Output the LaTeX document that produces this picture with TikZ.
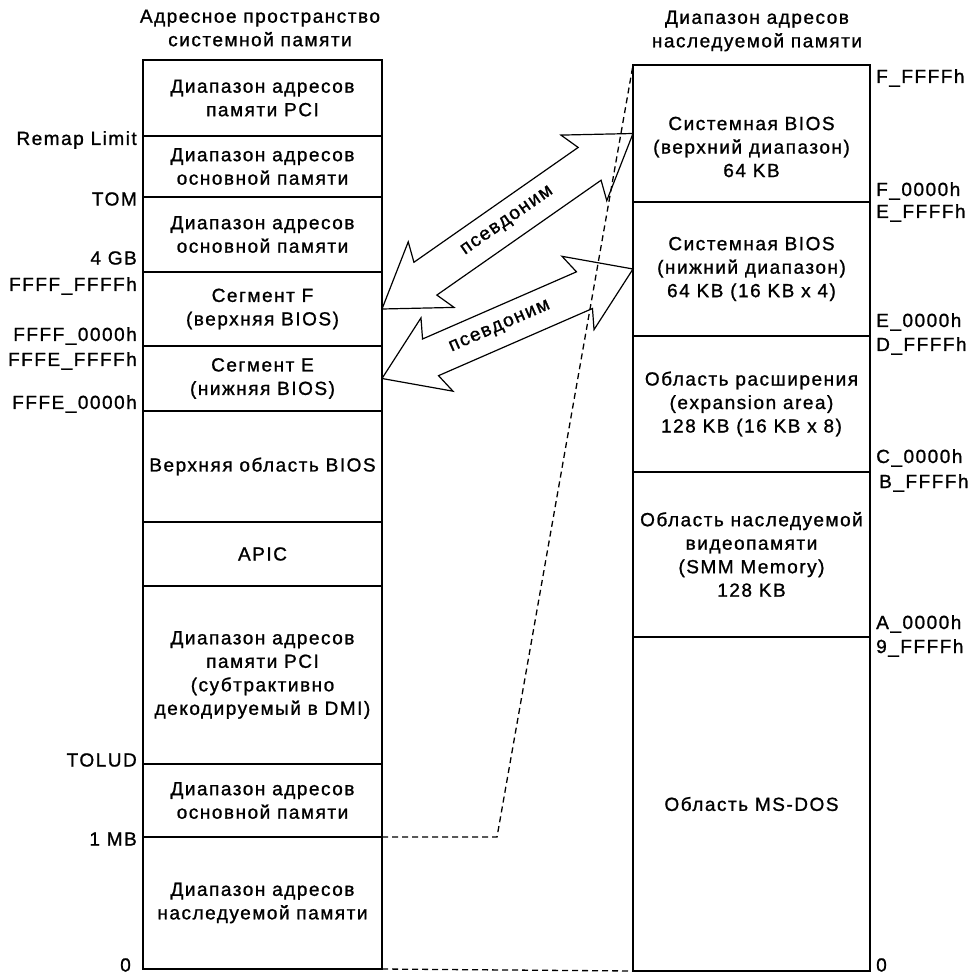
\documentclass[tikz,border=0pt]{standalone}
\usepackage{fontspec}
\setmainfont{Liberation Sans}[LetterSpace=8,FakeBold=1.1]
\usetikzlibrary{positioning,calc}

\newcommand\segfont{\fontsize{19}{23.5}\selectfont}
% двойная стрелка-псевдоним между двумя точками
\newcommand\aliasarrow[2]{%
  \draw[aliasline] (#1) -- ($(#1)!72.1pt!33.7:(#2)$) -- ($(#1)!56.6pt!20.7:(#2)$)
    -- ($(#2)!56.6pt!-20.7:(#1)$) -- ($(#2)!72.1pt!-33.7:(#1)$) -- (#2)
    -- ($(#2)!72.1pt!33.7:(#1)$) -- ($(#2)!56.6pt!20.7:(#1)$)
    -- ($(#1)!56.6pt!-20.7:(#2)$) -- ($(#1)!72.1pt!-33.7:(#2)$) -- cycle;}
\tikzset{
  seg/.style={draw,line width=1.3pt,inner sep=0pt,outer sep=0pt,align=center,font=\segfont},
  lseg/.style={seg,minimum width=239pt},
  rseg/.style={seg,minimum width=237pt},
  addr/.style={inner sep=0pt,font=\segfont},
  title/.style={align=center,inner sep=0pt,font=\segfont},
  aliasline/.style={line width=1.2pt,line join=miter},
  map/.style={line width=1.3pt,dash pattern=on 6pt off 4pt}
}

\begin{document}
\begin{tikzpicture}[x=1pt,y=-1pt]
\useasboundingbox (0,0) rectangle (969,976);
% заголовки
\node[title] (ltitle) at (260,28) {Адресное пространство\\системной памяти};
\node[title] (rtitle) at (757,31) {Диапазон адресов\\наследуемой памяти};

% адресное пространство системной памяти
\node[lseg,anchor=north west,minimum height=76pt] (pcihi) at (143,60) {Диапазон адресов\\памяти PCI};
\node[lseg,minimum height=61pt,below=0pt of pcihi] (remap) {Диапазон адресов\\основной памяти};
\node[lseg,minimum height=75pt,below=0pt of remap] (mainhi) {Диапазон адресов\\основной памяти};
\node[lseg,minimum height=74pt,below=0pt of mainhi] (segF) {Сегмент F\\(верхняя BIOS)};
\node[lseg,minimum height=65pt,below=0pt of segF] (segE) {Сегмент E\\(нижняя BIOS)};
\node[lseg,minimum height=111pt,below=0pt of segE] (hibios) {Верхняя область BIOS};
\node[lseg,minimum height=64pt,below=0pt of hibios] (apic) {APIC};
\node[lseg,minimum height=178pt,below=0pt of apic] (pcilo) {Диапазон адресов\\памяти PCI\\(субтрактивно\\декодируемый в DMI)};
\node[lseg,minimum height=73pt,below=0pt of pcilo] (mainlo) {Диапазон адресов\\основной памяти};
\node[lseg,minimum height=132pt,below=0pt of mainlo] (legacy) {Диапазон адресов\\наследуемой памяти};

% диапазон адресов наследуемой памяти
\node[rseg,anchor=north west,minimum height=137pt] (biosF) at (633,65) {};
\node[title] (biosFtext) at (751.5,147) {Системная BIOS\\(верхний диапазон)\\64 KB};
\node[rseg,minimum height=134pt,below=0pt of biosF] (biosE) {Системная BIOS\\(нижний диапазон)\\64 KB (16 KB x 4)};
\node[rseg,minimum height=136pt,below=0pt of biosE] (expan) {Область расширения\\(expansion area)\\128 KB (16 KB x 8)};
\node[rseg,minimum height=165pt,below=0pt of expan] (video) {Область наследуемой\\видеопамяти\\(SMM Memory)\\128 KB};
\node[rseg,minimum height=334pt,below=0pt of video] (msdos) {Область MS-DOS};

% адреса слева
\node[addr,anchor=east] (aremap) at (137,140) {Remap Limit};
\node[addr,anchor=east] (atom) at (137,199) {TOM};
\node[addr,anchor=east] (a4gb) at (137,258) {4 GB};
\node[addr,anchor=east] (affff1) at (137,286) {FFFF\_FFFFh};
\node[addr,anchor=east] (affff0) at (137,336) {FFFF\_0000h};
\node[addr,anchor=east] (afffe1) at (137,361) {FFFE\_FFFFh};
\node[addr,anchor=east] (afffe0) at (137,404) {FFFE\_0000h};
\node[addr,anchor=east] (atolud) at (137,760) {TOLUD};
\node[addr,anchor=east] (a1mb) at (137,839) {1 MB};
\node[addr,anchor=east] (azero) at (131,965) {0};

% адреса справа
\node[addr,anchor=west] (aF1) at (876,78) {F\_FFFFh};
\node[addr,anchor=west] (aF0) at (876,191) {F\_0000h};
\node[addr,anchor=west] (aE1) at (876,213) {E\_FFFFh};
\node[addr,anchor=west] (aE0) at (876,322) {E\_0000h};
\node[addr,anchor=west] (aD1) at (876,346) {D\_FFFFh};
\node[addr,anchor=west] (aC0) at (876,458) {C\_0000h};
\node[addr,anchor=west] (aB1) at (879,483) {B\_FFFFh};
\node[addr,anchor=west] (aA0) at (876,624) {A\_0000h};
\node[addr,anchor=west] (a91) at (876,648) {9\_FFFFh};
\node[addr,anchor=west] (a0) at (876,965) {0};

% отображение нижнего мегабайта
\coordinate (knee) at (497,837);
\draw[map] (legacy.north east) -- (knee) -- (biosF.north west);
\draw[map] (legacy.south east) -- (msdos.south west);

% псевдонимы
\aliasarrow{segF.east}{biosF.west}
\aliasarrow{segE.east}{biosE.west}
\path (segF.east) -- node[sloped,addr] (aliasF) {псевдоним} (biosF.west);
\path (segE.east) -- node[sloped,addr,pos=0.47] (aliasE) {псевдоним} (biosE.west);
\end{tikzpicture}
\end{document}
